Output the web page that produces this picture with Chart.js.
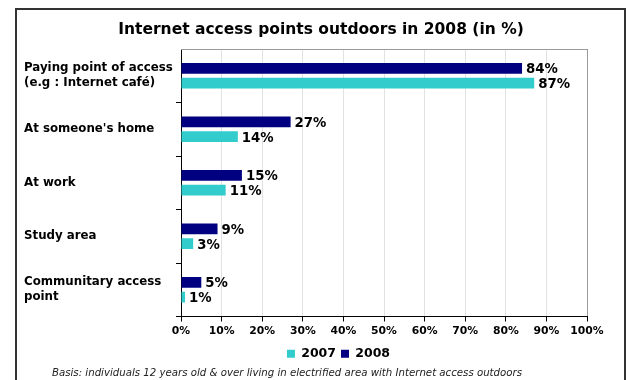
<!DOCTYPE html>
<html>
<head>
<meta charset="utf-8">
<script src="https://cdn.jsdelivr.net/npm/chart.js@4"></script>
<style>
  html, body { margin: 0; padding: 0; background: #fff; }
  #wrap { position: relative; width: 626px; height: 380px; overflow: hidden; }
  #frame { position: absolute; left: 15px; top: 8px; width: 607px; height: 420px; border: 2px solid #333; }
  #chart { position: absolute; left: 0; top: 0; }
</style>
</head>
<body>
<div id="wrap">
  <div id="frame"></div>
  <canvas id="chart" width="626" height="380"></canvas>
</div>
<script>
// Puntos de acceso a Internet fuera del hogar, 2007 vs 2008 (%)
var categorias = [
  ["Paying point of access", "(e.g : Internet café)"],
  "At someone's home",
  "At work",
  "Study area",
  ["Communitary access", "point"]
];
var valores2008 = [84, 27, 15, 9, 5];
var valores2007 = [87, 14, 11, 3, 1];
var ticksX = [0, 10, 20, 30, 40, 50, 60, 70, 80, 90, 100];

var COLOR_2008 = "#000080", COLOR_2007 = "#33CCCC";
var fuente = "'DejaVu Sans', Verdana, sans-serif";
var TITULO = "Internet access points outdoors in 2008 (in %)";
var NOTA = "Basis: individuals 12 years old & over living in electrified area with Internet access outdoors";

// etiquetas de valor al final de cada barra
var etiquetasValor = {
  id: "etiquetasValor",
  afterDatasetsDraw: function(chart) {
    var ctx = chart.ctx;
    ctx.save();
    ctx.font = "bold 13.3px " + fuente;
    ctx.fillStyle = "#000";
    ctx.textAlign = "left";
    ctx.textBaseline = "middle";
    chart.data.datasets.forEach(function(ds, i) {
      chart.getDatasetMeta(i).data.forEach(function(bar, j) {
        ctx.fillText(ds.data[j] + "%", bar.x + 4, bar.y + 1.5);
      });
    });
    ctx.restore();
  }
};

// titulo, borde superior, nota de base; la leyenda se corre a la derecha
var extras = {
  id: "extras",
  afterLayout: function(chart) {
    var lg = chart.legend;
    if (lg) { lg.left += 33; lg.right += 33; }
  },
  beforeDatasetsDraw: function(chart) {
    var a = chart.chartArea, ctx = chart.ctx;
    ctx.save();
    ctx.strokeStyle = "#9a9a9a";
    ctx.lineWidth = 1;
    ctx.beginPath();
    ctx.moveTo(a.left, a.top + 0.5);
    ctx.lineTo(a.right + 0.5, a.top + 0.5);
    ctx.stroke();
    ctx.restore();
  },
  afterDraw: function(chart) {
    var ctx = chart.ctx;
    ctx.save();
    ctx.fillStyle = "#000";
    ctx.textAlign = "center";
    ctx.textBaseline = "middle";
    ctx.font = "bold 15.5px " + fuente;
    ctx.fillText(TITULO, 321, 30);
    ctx.font = "italic 10.2px " + fuente;
    ctx.fillStyle = "#222";
    ctx.textAlign = "left";
    ctx.fillText(NOTA, 52, 373);
    ctx.restore();
  }
};

new Chart(document.getElementById("chart"), {
  type: "bar",
  data: {
    labels: categorias,
    datasets: [
      { label: "2008", data: valores2008, backgroundColor: COLOR_2008, categoryPercentage: 0.55, barPercentage: 0.72 },
      { label: "2007", data: valores2007, backgroundColor: COLOR_2007, categoryPercentage: 0.55, barPercentage: 0.72 }
    ]
  },
  options: {
    indexAxis: "y",
    responsive: false,
    animation: false,
    layout: { padding: { left: 24, right: 39, top: 49, bottom: 10 } },
    plugins: {
      title: { display: false },
      legend: {
        position: "bottom",
        reverse: true,
        labels: {
          boxWidth: 8, boxHeight: 8, padding: 5,
          color: "#000",
          font: { family: fuente, size: 12.5, weight: "bold" }
        }
      },
      tooltip: { enabled: false }
    },
    scales: {
      x: {
        min: 0, max: 100,
        afterBuildTicks: function(scale) { scale.ticks = ticksX.map(function(v){ return { value: v }; }); },
        afterFit: function(scale) { scale.height = 26; },
        grid: {
          color: function(c) { return c.index === ticksX.length - 1 ? "#9a9a9a" : "#e2e2e2"; },
          tickColor: "#000", tickLength: 5
        },
        border: { color: "#000" },
        ticks: {
          color: "#000", padding: 3, maxRotation: 0,
          font: { family: fuente, size: 10.8, weight: "bold" },
          callback: function(v) { return v + "%"; }
        }
      },
      y: {
        afterFit: function(scale) { scale.width = 157; },
        grid: {
          color: "transparent", drawOnChartArea: false,
          tickColor: function(c) { return c.index === 0 ? "transparent" : "#000"; },
          tickLength: 5
        },
        border: { color: "#000" },
        ticks: {
          color: "#000", crossAlign: "far",
          font: { family: fuente, size: 11.8, weight: "bold", lineHeight: 1.3 }
        }
      }
    }
  },
  plugins: [etiquetasValor, extras]
});
</script>
</body>
</html>
